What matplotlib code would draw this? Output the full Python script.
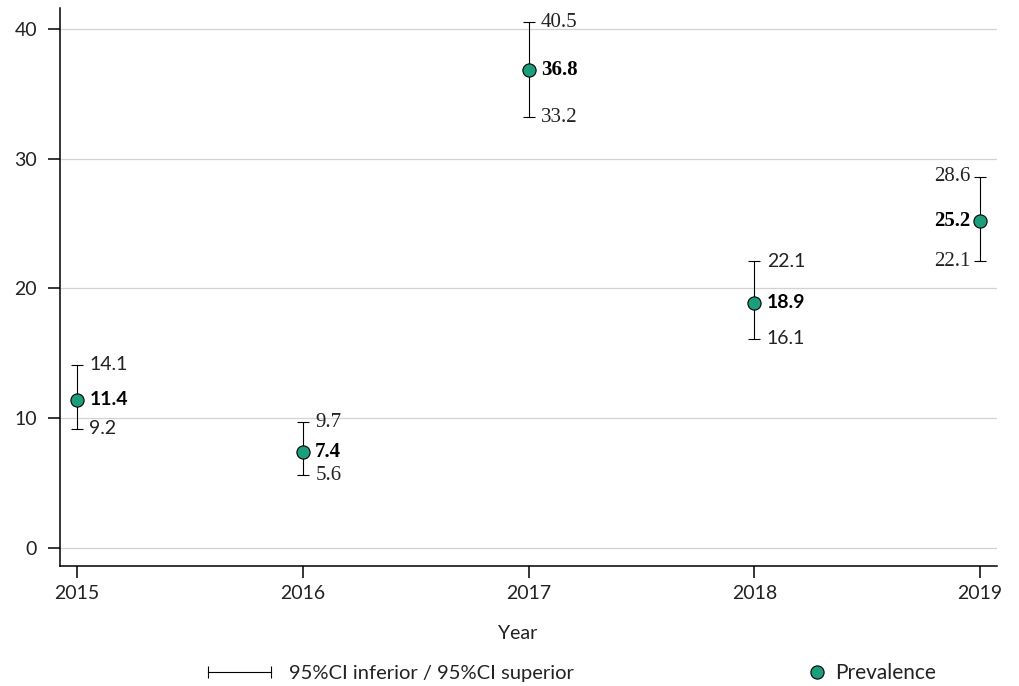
import matplotlib
matplotlib.use("Agg")
import matplotlib.pyplot as plt
from matplotlib.lines import Line2D
from matplotlib.legend_handler import HandlerLine2D

plt.rcParams['font.family'] = ['Lato', 'DejaVu Sans']

# data
years = [2015, 2016, 2017, 2018, 2019]
prevalence = [11.4, 7.4, 36.8, 18.9, 25.2]
ci_low = [9.2, 5.6, 33.2, 16.1, 22.1]
ci_high = [14.1, 9.7, 40.5, 22.1, 28.6]
y_ticks = [0, 10, 20, 30, 40]

GREEN = '#1a9e7c'
FS = 14
# label fonts as they appear in the picture (some labels are drawn in a serif face)
label_fonts = ['Lato', 'Liberation Serif', 'Liberation Serif', 'Lato', 'Liberation Serif']
label_sizes = [14, 15, 15, 14, 15]

fig = plt.figure(figsize=(10.2, 6.86), dpi=100)
ax = fig.add_axes([60 / 1020, 120 / 686, 937 / 1020, 558 / 686])

for v in y_ticks:
    ax.axhline(v, color='#d2d2d2', lw=0.9, zorder=0)

lo_err = [p - l for p, l in zip(prevalence, ci_low)]
hi_err = [h - p for p, h in zip(prevalence, ci_high)]
ax.errorbar(years, prevalence, yerr=[lo_err, hi_err], fmt='none',
            ecolor='black', elinewidth=0.8, capsize=4.5, capthick=0.8, zorder=2)
ax.plot(years, prevalence, 'o', color=GREEN, mec='black', mew=0.8, ms=9.5, zorder=3)

for i, yr in enumerate(years):
    fam = label_fonts[i]
    sz = label_sizes[i]
    if i == len(years) - 1:
        dx, ha = -7, 'right'
    else:
        dx, ha = 9, 'left'
    ax.annotate(f'{ci_high[i]}', (yr, ci_high[i]), xytext=(dx, 0), textcoords='offset points',
                ha=ha, va='center', fontsize=sz, family=fam, color='#222222')
    ax.annotate(f'{ci_low[i]}', (yr, ci_low[i]), xytext=(dx, 0), textcoords='offset points',
                ha=ha, va='center', fontsize=sz, family=fam, color='#222222')
    ax.annotate(f'{prevalence[i]}', (yr, prevalence[i]), xytext=(dx, 0),
                textcoords='offset points', ha=ha, va='center', fontsize=sz,
                family=fam, fontweight='bold', color='black')

ax.set_xlim(2014.925, 2019.075)
ax.set_ylim(-1.39, 41.6)
ax.set_xticks(years)
ax.set_yticks(y_ticks)
ax.tick_params(axis='both', labelsize=FS, length=8.5, width=1.1, colors='black', labelcolor='#222222')
ax.tick_params(axis='x', pad=5)
ax.tick_params(axis='y', pad=8)
for s in ['top', 'right']:
    ax.spines[s].set_visible(False)
for s in ['left', 'bottom']:
    ax.spines[s].set_linewidth(1.1)
ax.set_xlabel('Year', fontsize=FS, color='#222222')
ax.xaxis.set_label_coords(0.488, -0.105)

# legend
ci_handle = Line2D([], [], color='black', lw=0.8, marker='|', ms=9, mew=0.8)
pt_handle = Line2D([], [], color=GREEN, lw=0, marker='o', ms=9.5, mec='black', mew=0.8)
leg1 = fig.legend([ci_handle], ['95%CI inferior / 95%CI superior'],
                  handler_map={ci_handle: HandlerLine2D(numpoints=2)},
                  loc='center left', bbox_to_anchor=(184 / 1020, 13 / 686), frameon=False,
                  fontsize=14.5, handlelength=3.7, handletextpad=0.6)
leg2 = fig.legend([pt_handle], ['Prevalence'], loc='center left',
                  bbox_to_anchor=(790 / 1020, 13 / 686), frameon=False,
                  fontsize=15, handlelength=0.8, handletextpad=0.45)
for t in leg1.get_texts() + leg2.get_texts():
    t.set_color('#222222')

fig.savefig('out.png', dpi=100)
